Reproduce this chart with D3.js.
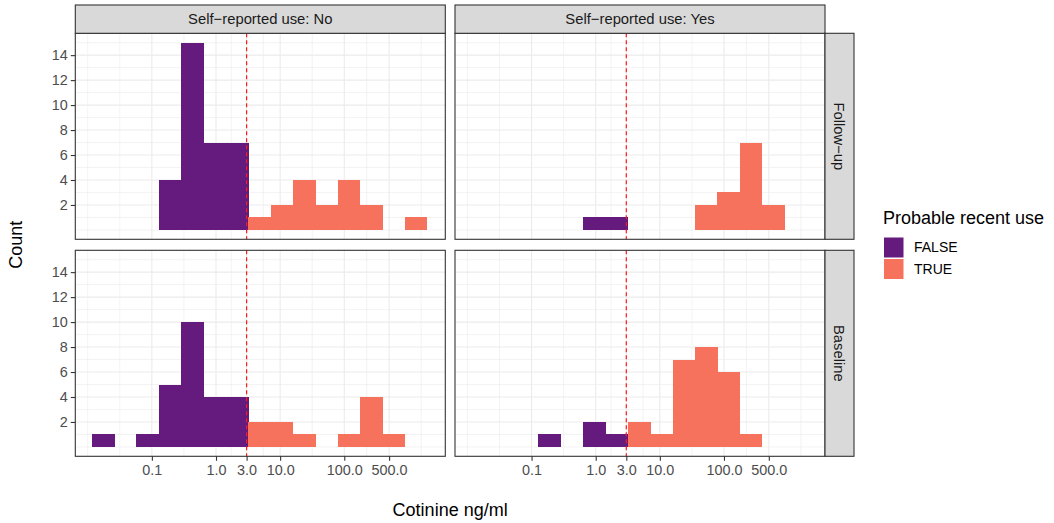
<!DOCTYPE html>
<html>
<head>
<meta charset="utf-8">
<script src="https://cdn.jsdelivr.net/npm/d3@7"></script>
<style>
  html, body { margin: 0; padding: 0; background: #fff; }
  svg { display: block; font-family: "Liberation Sans", Arial, Helvetica, sans-serif; }
</style>
</head>
<body>
<svg id="chart" width="1054" height="523"></svg>
<script>
// ---- data ----
const binEdges = [0.0115, 0.0257, 0.0574, 0.128, 0.286, 0.638, 1.42, 3.17, 7.08, 15.8, 35.2, 78.6, 175, 391, 873, 1948];
const binRecentUse = [false, false, false, false, false, false, false, true, true, true, true, true, true, true, true];
const followUpNo  = [0, 0, 0, 4, 15, 7, 7, 1, 2, 4, 2, 4, 2, 0, 1];
const baselineNo  = [1, 0, 1, 5, 10, 4, 4, 2, 2, 1, 0, 1, 4, 1, 0];
const followUpYes = [0, 0, 0, 0, 0, 1, 1, 0, 0, 0, 2, 3, 7, 2, 0];
const baselineYes = [0, 0, 0, 1, 0, 2, 1, 2, 1, 7, 8, 6, 1, 0, 0];
const colTitles = ["Self\u2212reported use: No", "Self\u2212reported use: Yes"];
const rowTitles = ["Follow\u2212up", "Baseline"];
const xTicks = [0.1, 1, 3, 10, 100, 500];
const xTickLabels = ["0.1", "1.0", "3.0", "10.0", "100.0", "500.0"];
const yTicks = [2, 4, 6, 8, 10, 12, 14];
const cutoff = [3];
const legendLabels = ["FALSE", "TRUE"];
const legendTitle = "Probable recent use";
const xTitle = "Cotinine ng/ml";
const yTitle = "Count";

const panelsData = [
  [followUpNo, followUpYes],
  [baselineNo, baselineYes]
];

// ---- layout ----
const svg = d3.select("#chart");
const panelW = 370, panelH = 206;
const panelX = [75.3, 455.0];
const panelY = [33.3, 250.3];
const stripH = 28.3, stripW = 29;
const fill = d3.scaleOrdinal().domain([false, true]).range(["#651A7E", "#F7725C"]);

const x = d3.scaleLog().domain([0.0064, 3760]).range([0, panelW]);
const y = d3.scaleLinear().domain([-0.75, 15.75]).range([panelH, 0]);

// gridline positions (ggplot style minor breaks: midpoints in transformed space)
const lx = xTicks.map(Math.log10);
const ext = [lx[0] - (lx[1] - lx[0]), ...lx, lx[lx.length - 1] + (lx[1] - lx[0])];
const xMinor = [];
for (let i = 0; i < ext.length - 1; i++) xMinor.push(Math.pow(10, ext[i]), Math.pow(10, (ext[i] + ext[i + 1]) / 2));
xMinor.push(Math.pow(10, ext[ext.length - 1]));
const [d0, d1] = x.domain();
const xMinorIn = xMinor.filter(v => v > d0 && v < d1 && !xTicks.some(t => Math.abs(Math.log10(t) - Math.log10(v)) < 1e-6));
const yMinor = d3.range(0, 16, 1).filter(v => !yTicks.includes(v));

for (let r = 0; r < 2; r++) {
  for (let c = 0; c < 2; c++) {
    const g = svg.append("g").attr("transform", `translate(${panelX[c]},${panelY[r]})`);
    g.append("rect").attr("width", panelW).attr("height", panelH).attr("fill", "#fff");
    // minor grid
    g.selectAll(".xm").data(xMinorIn).join("line")
      .attr("x1", d => x(d)).attr("x2", d => x(d)).attr("y1", 0).attr("y2", panelH)
      .attr("stroke", "#EBEBEB").attr("stroke-width", 0.6);
    g.selectAll(".ym").data(yMinor).join("line")
      .attr("y1", d => y(d)).attr("y2", d => y(d)).attr("x1", 0).attr("x2", panelW)
      .attr("stroke", "#EBEBEB").attr("stroke-width", 0.6);
    // major grid
    g.selectAll(".xM").data(xTicks).join("line")
      .attr("x1", d => x(d)).attr("x2", d => x(d)).attr("y1", 0).attr("y2", panelH)
      .attr("stroke", "#EBEBEB").attr("stroke-width", 1.1);
    g.selectAll(".yM").data(yTicks).join("line")
      .attr("y1", d => y(d)).attr("y2", d => y(d)).attr("x1", 0).attr("x2", panelW)
      .attr("stroke", "#EBEBEB").attr("stroke-width", 1.1);
    // bars
    const counts = panelsData[r][c];
    const bins = counts.map((n, i) => ({ x0: binEdges[i], x1: binEdges[i + 1], n, rec: binRecentUse[i] })).filter(d => d.n > 0);
    g.selectAll(".bar").data(bins).join("rect")
      .attr("x", d => x(d.x0)).attr("width", d => x(d.x1) - x(d.x0) + 0.5)
      .attr("y", d => y(d.n)).attr("height", d => y(0) - y(d.n))
      .attr("fill", d => fill(d.rec))
      .attr("shape-rendering", "crispEdges");
    // cutoff line
    g.selectAll(".cut").data(cutoff).join("line")
      .attr("x1", d => x(d)).attr("x2", d => x(d)).attr("y1", 0).attr("y2", panelH)
      .attr("stroke", "#FF1A1A").attr("stroke-width", 1.2).attr("stroke-dasharray", "4,3");
    // border
    g.append("rect").attr("width", panelW).attr("height", panelH)
      .attr("fill", "none").attr("stroke", "#333333").attr("stroke-width", 1.1);

    // axes
    if (c === 0) {
      const ya = g.append("g").call(d3.axisLeft(y).tickValues(yTicks).tickSize(4.5).tickPadding(3));
      ya.select(".domain").remove();
      ya.selectAll("line").attr("stroke", "#333333").attr("stroke-width", 1.1);
      ya.selectAll("text").attr("fill", "#4D4D4D").style("font-size", "14.4px");
    }
    if (r === 1) {
      const xa = g.append("g").attr("transform", `translate(0,${panelH})`)
        .call(d3.axisBottom(x).tickValues(xTicks).tickFormat((d, i) => xTickLabels[i]).tickSize(4.5).tickPadding(3.5));
      xa.select(".domain").remove();
      xa.selectAll("line").attr("stroke", "#333333").attr("stroke-width", 1.1);
      xa.selectAll("text").attr("fill", "#4D4D4D").style("font-size", "14.4px");
    }
  }
}

// column strips
colTitles.forEach((t, c) => {
  const g = svg.append("g").attr("transform", `translate(${panelX[c]},${panelY[0] - stripH})`);
  g.append("rect").attr("width", panelW).attr("height", stripH)
    .attr("fill", "#D9D9D9").attr("stroke", "#333333").attr("stroke-width", 1.1);
  g.append("text").attr("x", panelW / 2).attr("y", stripH / 2).attr("dy", "0.35em")
    .attr("text-anchor", "middle").attr("fill", "#1A1A1A").style("font-size", "14.8px").text(t);
});
// row strips
rowTitles.forEach((t, r) => {
  const g = svg.append("g").attr("transform", `translate(${panelX[1] + panelW},${panelY[r]})`);
  g.append("rect").attr("width", stripW).attr("height", panelH)
    .attr("fill", "#D9D9D9").attr("stroke", "#333333").attr("stroke-width", 1.1);
  g.append("text").attr("transform", `translate(${stripW / 2},${panelH / 2}) rotate(90)`)
    .attr("dy", "0.35em").attr("text-anchor", "middle").attr("fill", "#1A1A1A")
    .style("font-size", "14.8px").text(t);
});

// axis titles
const midX = (panelX[0] + panelX[1] + panelW) / 2;
const midY = (panelY[0] + panelY[1] + panelH) / 2;
svg.append("text").attr("x", midX).attr("y", 516).attr("text-anchor", "middle")
  .attr("fill", "#000").style("font-size", "18px").text(xTitle);
svg.append("text").attr("transform", `translate(22,${midY}) rotate(-90)`).attr("text-anchor", "middle")
  .attr("fill", "#000").style("font-size", "18px").text(yTitle);

// legend
const lg = svg.append("g").attr("transform", "translate(883,0)");
lg.append("text").attr("x", 0).attr("y", 224).attr("fill", "#000").style("font-size", "18px").text(legendTitle);
legendLabels.forEach((lab, i) => {
  lg.append("rect").attr("x", 1).attr("y", 237.5 + i * 21.5).attr("width", 19.5).attr("height", 20)
    .attr("fill", fill(i === 1));
  lg.append("text").attr("x", 31).attr("y", 247.5 + i * 21.5).attr("dy", "0.35em")
    .attr("fill", "#000").style("font-size", "14px").text(lab);
});
</script>
</body>
</html>
